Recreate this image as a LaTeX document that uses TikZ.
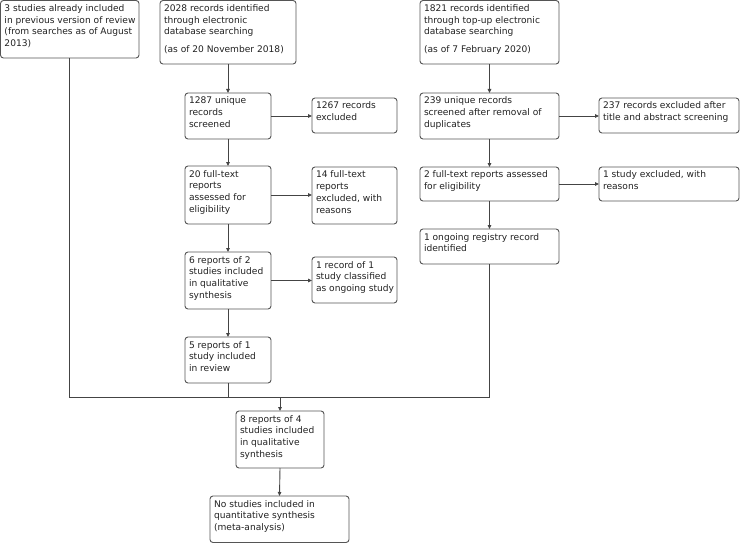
\documentclass[tikz,border=0pt]{standalone}
\usepackage{fontspec}
\setmainfont{DejaVu Sans}
\usetikzlibrary{arrows.meta}
\definecolor{edge}{HTML}{555555}
\definecolor{ink}{HTML}{222222}
\definecolor{wire}{HTML}{444444}
\tikzset{
  fbox/.style={draw=edge, line width=0.9pt, rounded corners=3pt, inner sep=0pt, outer sep=0pt},
  ftxt/.style={anchor=base west, inner sep=0pt, outer sep=0pt, text=ink, font=\fontsize{9.1}{11.7}\selectfont},
  conn/.style={draw=wire, line width=0.9pt},
  arr/.style={conn, -{Triangle[length=4pt,width=3.5pt]}},
}
\newcommand\flowbox[6]{%
  \pgfmathsetmacro\bw{#4-#2}%
  \pgfmathsetmacro\bh{#5-#3}%
  \node[fbox, minimum width=\bw pt, minimum height=\bh pt] (#1) at ({(#2+#4)/2},{(#3+#5)/2}) {};
  \node[ftxt] (#1-t) at (#2+4,#3+11) {\parbox[t]{\bw pt}{\raggedright #6}};
}
\begin{document}
\begin{tikzpicture}[x=1pt,y=-1pt]
\useasboundingbox (0,0) rectangle (740,543);
\fill[white] (0,0) rectangle (740,543);

\flowbox{A}{0.5}{0.5}{139}{58}{3 studies already included\\in previous version of review\\(from searches as of August\\2013)}
\flowbox{B}{160}{0.5}{296}{64}{2028 records identified\\through electronic\\database searching\\[6.3pt](as of 20 November 2018)}
\flowbox{C}{420}{0.5}{559}{64}{1821 records identified\\through top-up electronic\\database searching\\[6.3pt](as of 7 February 2020)}

\flowbox{D}{185}{93}{271}{139}{1287 unique\\records\\screened}
\flowbox{E}{312}{98}{397}{133}{1267 records\\excluded}
\flowbox{F}{185}{166}{271}{224}{20 full-text\\reports\\assessed for\\eligibility}
\flowbox{G}{312}{167}{397}{224}{14 full-text\\reports\\excluded, with\\reasons}
\flowbox{H}{185}{252}{271}{309}{6 reports of 2\\studies included\\in qualitative\\synthesis}
\flowbox{I}{312}{257}{397}{303}{1 record of 1\\study classified\\as ongoing study}
\flowbox{J}{185}{337}{271}{383}{5 reports of 1\\study included\\in review}

\flowbox{K}{420}{93}{559}{139}{239 unique records\\screened after removal of\\duplicates}
\flowbox{L}{599}{98}{739}{133}{237 records excluded after\\title and abstract screening}
\flowbox{M}{420}{167}{559}{201}{2 full-text reports assessed\\for eligibility}
\flowbox{N}{599}{167}{739}{201}{1 study excluded, with\\reasons}
\flowbox{O}{420}{229}{559}{264}{1 ongoing registry record\\identified}

\flowbox{P}{236}{411}{324}{468}{8 reports of 4\\studies included\\in qualitative\\synthesis}
\flowbox{Q}{210}{496}{349}{542.5}{No studies included in\\quantitative synthesis\\(meta-analysis)}

\coordinate (jl) at (69.75,397);
\coordinate (jr) at (489.5,397);
\coordinate (jm) at (280,397);

\draw[arr] (B.south) -- (D.north);
\draw[arr] (D.east) -- (D.east -| E.west);
\draw[arr] (D.south) -- (F.north);
\draw[arr] (F.east) -- (F.east -| G.west);
\draw[arr] (F.south) -- (H.north);
\draw[arr] (H.east) -- (H.east -| I.west);
\draw[arr] (H.south) -- (J.north);

\draw[arr] (C.south) -- (K.north);
\draw[arr] (K.east) -- (K.east -| L.west);
\draw[arr] (K.south) -- (M.north);
\draw[arr] (M.east) -- (M.east -| N.west);
\draw[arr] (M.south) -- (O.north);

\draw[conn] (A.south) -- (jl) -- (jr) -- (O.south);
\draw[conn] (J.south) -- (J.south |- jl);
\draw[arr] (jm) -- (P.north);
\draw[arr] (P.south) -- (Q.north);
\end{tikzpicture}
\end{document}
